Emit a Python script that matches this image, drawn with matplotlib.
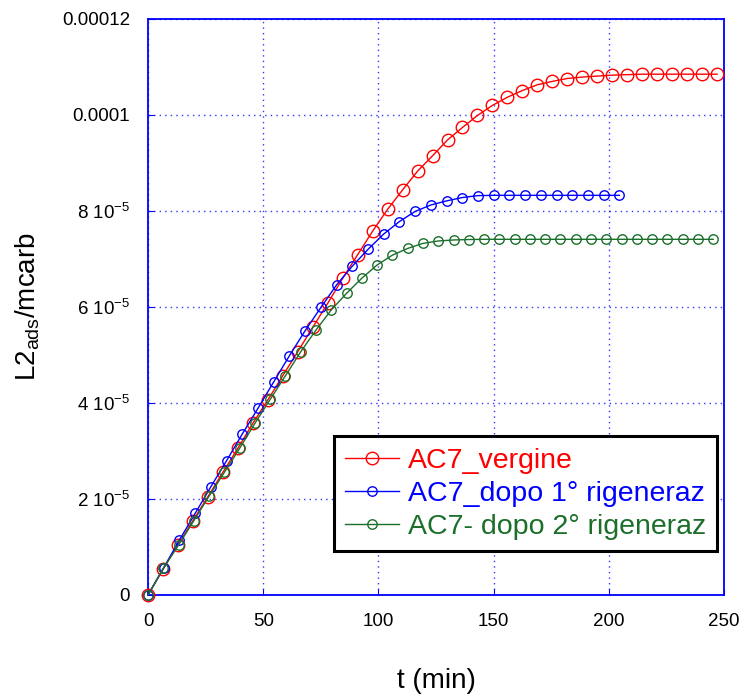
import matplotlib
matplotlib.use("Agg")
import matplotlib.pyplot as plt
from matplotlib.ticker import FixedLocator

plt.rcParams['font.family'] = ['Liberation Sans', 'DejaVu Sans']
plt.rcParams['mathtext.default'] = 'regular'

# ---- dati ----
t_vergine = [6.5 * i for i in range(39)]
y_vergine = [0, 5.35, 10.42, 15.48, 20.48, 25.56, 30.56, 35.77, 40.63, 45.69,
             50.69, 55.77, 60.77, 65.98, 70.9, 75.8, 80.35, 84.4, 88.3, 91.5,
             94.8, 97.4, 99.9, 102.0, 103.7, 105.1, 106.3, 107.0, 107.6, 107.9,
             108.1, 108.3, 108.4, 108.5, 108.5, 108.5, 108.5, 108.5, 108.5]

t_rig1 = [6.82 * i for i in range(31)]
y_rig1 = [0, 5.69, 11.46, 17.0, 22.56, 27.98, 33.54, 38.9, 44.4, 49.85,
          55.06, 59.9, 64.6, 68.5, 72.0, 75.2, 77.8, 79.9, 81.25, 82.1,
          82.8, 83.2, 83.26, 83.26, 83.26, 83.26, 83.26, 83.26, 83.26, 83.26, 83.26]

t_rig2 = [6.63 * i for i in range(38)]
y_rig2 = [0, 5.56, 10.42, 15.48, 20.6, 25.56, 30.56, 35.77, 40.76, 45.69,
          50.69, 55.2, 59.4, 62.85, 66.0, 68.75, 70.8, 72.2, 73.25, 73.75,
          73.96, 74.05, 74.1, 74.1, 74.1, 74.1, 74.1, 74.1, 74.1, 74.1,
          74.1, 74.1, 74.1, 74.1, 74.1, 74.1, 74.1, 74.1]

etichette = ["AC7_vergine", "AC7_dopo 1° rigeneraz", "AC7- dopo 2° rigeneraz"]
colori = ["#ff0000", "#0000ff", "#1b6f2a"]

x_ticks = [0, 50, 100, 150, 200, 250]
y_ticks = [0, 2e-5, 4e-5, 6e-5, 8e-5, 1e-4, 1.2e-4]
y_tick_labels = ["0", "2 10$^{-5}$", "4 10$^{-5}$", "6 10$^{-5}$", "8 10$^{-5}$",
                 "0.0001", "0.00012"]

# ---- figura ----
fig = plt.figure(figsize=(7.42, 6.98), dpi=100)
ax = fig.add_axes([0.1995, 0.1476, 0.7762, 0.8252])

serie = [(t_vergine, y_vergine, 9), (t_rig1, y_rig1, 6.8), (t_rig2, y_rig2, 6.8)]
for (t, y, ms), lab, col in zip(serie, etichette, colori):
    ax.plot(t, [v * 1e-6 for v in y], color=col, lw=1.0, marker='o', ms=ms,
            mfc='none', mec=col, mew=1.0, label=lab, clip_on=False, zorder=3)

ax.set_xlim(0, 250)
ax.set_ylim(0, 0.00012)
ax.xaxis.set_major_locator(FixedLocator(x_ticks))
ax.yaxis.set_major_locator(FixedLocator(y_ticks))
ax.set_yticklabels(y_tick_labels)
ax.set_xticklabels([str(v) for v in x_ticks])

ax.grid(True, color='#0000ff', linestyle=(0, (1, 3)), linewidth=1.0, alpha=0.8)
for s in ax.spines.values():
    s.set_color('#0000ff')
    s.set_linewidth(1.3)
ax.tick_params(direction='in', length=4, color='#0000ff', labelsize=13.5, pad=13)

ax.set_xlabel("t (min)", fontsize=20, labelpad=27)
ax.set_ylabel("L2$_{ads}$/mcarb", fontsize=20, labelpad=14)

leg = ax.legend(loc='lower right', bbox_to_anchor=(0.988, 0.076), fontsize=20.5,
                frameon=True, fancybox=False, framealpha=1, borderpad=0.4,
                labelspacing=0.25, handlelength=1.9, handletextpad=0.3,
                borderaxespad=0)
leg.get_frame().set_edgecolor('black')
leg.get_frame().set_linewidth(2.2)
for txt, col in zip(leg.get_texts(), colori):
    txt.set_color(col)

fig.savefig("out.png", dpi=100)
